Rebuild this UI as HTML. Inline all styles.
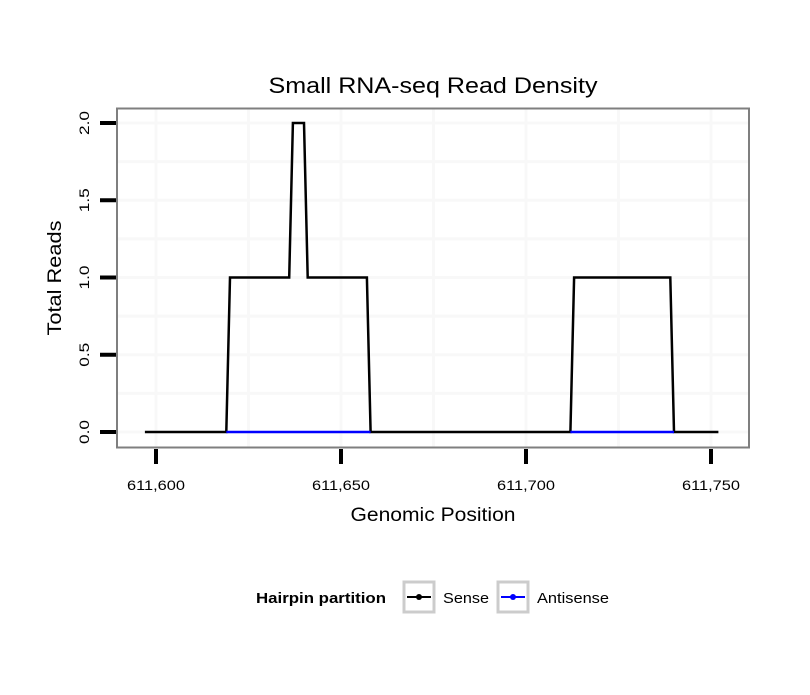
<!DOCTYPE html>
<html><head><meta charset="utf-8"><style>
body{margin:0;background:#fff;}
svg text{font-family:"Liberation Sans",sans-serif;}
</style></head><body>
<svg id="chart" width="810" height="690" viewBox="0 0 810 690">
<rect width="810" height="690" fill="#fff"/>
<text x="433" y="93" font-size="22" text-anchor="middle" textLength="329" lengthAdjust="spacingAndGlyphs">Small RNA-seq Read Density</text>
<g id="grid"></g>
<g id="series"></g>
<rect x="117" y="108.5" width="632" height="339" fill="none" stroke="#7f7f7f" stroke-width="2"/>
<g id="axes"></g>
<text x="433" y="521" font-size="19" text-anchor="middle" textLength="165" lengthAdjust="spacingAndGlyphs">Genomic Position</text>
<text transform="translate(61,278) rotate(-90)" font-size="19" text-anchor="middle" textLength="115" lengthAdjust="spacingAndGlyphs">Total Reads</text>
<g>
<text x="256" y="603" font-size="15" font-weight="bold" textLength="130" lengthAdjust="spacingAndGlyphs">Hairpin partition</text>
<g>
<rect x="404" y="582" width="30" height="30" fill="#fff" stroke="#ccc" stroke-width="3"/>
<line x1="407" y1="597" x2="431" y2="597" stroke="#000" stroke-width="2"/>
<circle cx="419" cy="597" r="3" fill="#000"/>
<text x="443" y="603" font-size="15" textLength="46" lengthAdjust="spacingAndGlyphs">Sense</text>
</g>
<g>
<rect x="498" y="582" width="30" height="30" fill="#fff" stroke="#ccc" stroke-width="3"/>
<line x1="501" y1="597" x2="525" y2="597" stroke="#00f" stroke-width="2"/>
<circle cx="513" cy="597" r="3" fill="#00f"/>
<text x="537" y="603" font-size="15" textLength="72" lengthAdjust="spacingAndGlyphs">Antisense</text>
</g>
</g>
</svg>
<script>
const senseX=[611597,611619,611620,611636,611637,611640,611641,611657,611658,611712,611713,611739,611740,611752];
const senseY=[0,0,1,1,2,2,1,1,0,0,1,1,0,0];
const antiX=[611619,611658,611712,611740];
const antiY=[0,0,0,0];
const xTicks=[611600,611650,611700,611750];
const xTickLabels=["611,600","611,650","611,700","611,750"];
const yTicks=[0,0.5,1,1.5,2];
const yTickLabels=["0.0","0.5","1.0","1.5","2.0"];
const xMinorTicks=[611625,611675,611725];
const yMinorTicks=[0.25,0.75,1.25,1.75];
const NS='http://www.w3.org/2000/svg';
const xs=v=>156+(v-611600)*3.7;
const ys=v=>432-v*154.5;
function mk(tag,attrs,parent){const e=document.createElementNS(NS,tag);for(const k in attrs)e.setAttribute(k,attrs[k]);parent.appendChild(e);return e;}
const grid=document.getElementById('grid'),series=document.getElementById('series'),axes=document.getElementById('axes');
xTicks.concat(xMinorTicks).forEach(v=>{const l=mk('line',{x1:xs(v),x2:xs(v),y1:109,y2:447,stroke:'#f8f8f8','stroke-width':3},grid);

});
yTicks.concat(yMinorTicks).forEach(v=>{const l=mk('line',{x1:118,x2:748,y1:ys(v),y2:ys(v),stroke:'#f8f8f8','stroke-width':3},grid);

});
function path(X,Y,color,name){const d=X.map((x,i)=>(i?'L':'M')+xs(x)+','+ys(Y[i])).join(' ');
const p=mk('path',{d:d,fill:'none',stroke:color,'stroke-width':2.5,'stroke-linejoin':'miter'},series);

}
path(senseX,senseY,'#000','sense-line');
for(let i=0;i<antiX.length;i+=2){path([antiX[i],antiX[i+1]],[antiY[i],antiY[i+1]],'#00f','antisense-line');}
xTicks.forEach((v,i)=>{const t=mk('line',{x1:xs(v),x2:xs(v),y1:449,y2:464,stroke:'#000','stroke-width':4},axes);


const tx=mk('text',{x:xs(v),y:490,'font-size':14,'text-anchor':'middle',textLength:58,lengthAdjust:'spacingAndGlyphs'},axes);tx.textContent=xTickLabels[i];

});
yTicks.forEach((v,i)=>{const t=mk('line',{x1:100,x2:116,y1:ys(v),y2:ys(v),stroke:'#000','stroke-width':4},axes);


const tx=mk('text',{transform:`translate(89,${ys(v)}) rotate(-90)`,'font-size':14,'text-anchor':'middle',textLength:24,lengthAdjust:'spacingAndGlyphs'},axes);tx.textContent=yTickLabels[i];

});
</script>
</body></html>
